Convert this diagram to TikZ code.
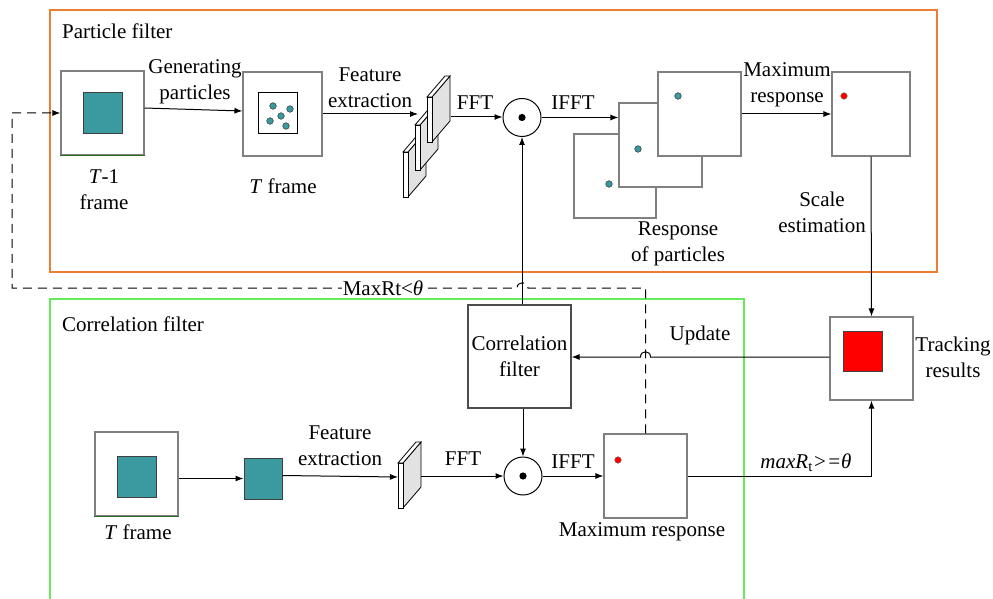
\documentclass[tikz,border=0pt]{standalone}
\usepackage{fontspec}
\setmainfont{Liberation Serif}
\usetikzlibrary{arrows.meta}
\definecolor{tealc}{RGB}{58,154,160}
\definecolor{orangec}{RGB}{237,125,49}
\definecolor{greenc}{RGB}{100,235,90}
\definecolor{boxgray}{RGB}{128,128,128}
\definecolor{slabgray}{RGB}{226,226,226}
\definecolor{edgegreen}{RGB}{40,110,40}
\newcommand{\fmslab}[2]{%
  \filldraw[fill=slabgray, draw=black, line width=0.8pt] (#1+5,#2) -- ++(18,-21) -- ++(0,45) -- ++(-18,21) -- cycle;
  \filldraw[fill=white, draw=black, line width=0.8pt] (#1,#2) rectangle ++(5,45);
  \filldraw[fill=white, draw=black, line width=0.8pt] (#1,#2) -- ++(18,-21) -- ++(5,0) -- (#1+5,#2) -- cycle;
}
\begin{document}
\begin{tikzpicture}[x=1pt,y=-1pt,
  every node/.style={font=\fontsize{21}{26}\selectfont, inner sep=0pt},
  framebox/.style={draw=boxgray, line width=1.1pt, fill=white},
  tealbox/.style={draw=black!75, line width=1pt, fill=tealc},
  redbox/.style={draw=black!75, line width=1pt, fill=red},
  opcirc/.style={circle, draw=black, line width=1pt, fill=white, minimum size=38pt},
  arr/.style={-{Latex[length=8pt,width=6pt]}, line width=1pt},
  dashline/.style={line width=1pt, dash pattern=on 9pt off 6pt},
  lbl/.style={align=center},
  tdot/.style={fill=tealc, draw=black!80, line width=0.5pt},
  rdot/.style={fill=red, draw=black!60, line width=0.4pt}
]
\useasboundingbox (0,0) rectangle (993,599);
% group frames
\draw[orangec, line width=1.3pt] (50,10) rectangle (937,272);
\draw[greenc, line width=1.3pt] (50,610) -- (50,299) -- (744,299) -- (744,610);
\node[anchor=west] (pftitle) at (62,31) {Particle filter};
\node[anchor=west] (cftitle) at (62,324) {Correlation filter};

% ---------- particle filter row ----------
\node[framebox, minimum width=83pt, minimum height=84pt] (t1box) at (102.5,113) {};
\draw[edgegreen, line width=1pt] (t1box.south west) -- (t1box.south east);
\node[tealbox, minimum width=39pt, minimum height=41pt] (t1in) at (102.5,113.5) {};
\node[lbl] (t1lab) at (104,190) {\textit{T}-1\\frame};

\node[framebox, minimum width=79pt, minimum height=84pt] (tbox) at (282.5,114) {};
\node[draw=black, line width=1pt, fill=white, minimum width=39pt, minimum height=41pt] (tin) at (277.5,113.5) {};
\foreach \px/\py in {273/106, 290/109, 281/116, 270/121, 286/126}
  \filldraw[tdot] (\px,\py) circle (3.3);
\node[lbl] (tlab) at (283,186) {\textit{T} frame};

\draw[arr] ([yshift=5pt]t1box.east) -- ([yshift=3pt]tbox.west);
\node[lbl] (genlab) at (195,82) {Generating\\particles};

% feature maps stack
\fmslab{403}{152}
\fmslab{415}{125}
\fmslab{427}{97}
\coordinate (fm1in) at (418,114);
\coordinate (fm1out) at (451,117);
\draw[arr] (tbox.east |- fm1in) -- (fm1in);
\node[lbl] (felab1) at (370,88) {Feature\\extraction};

\node[opcirc] (odot1) at (522,117.5) {};
\fill (odot1.center) circle (3.6);
\draw[arr] (fm1out) -- (fm1out -| odot1.west);
\node (fftlab1) at (475,103) {FFT};

% response of particles
\node[framebox, minimum width=82pt, minimum height=84pt] (r3) at (615,176) {};
\node[framebox, minimum width=83pt, minimum height=84pt] (r2) at (660.5,145) {};
\node[framebox, minimum width=83pt, minimum height=84pt] (r1) at (699.5,114) {};
\filldraw[tdot] (609,184) circle (3.3);
\filldraw[tdot] (638,149) circle (3.3);
\filldraw[tdot] (678,96) circle (3.3);
\draw[arr] (odot1.east) -- (r2.west |- odot1.east);
\node (ifftlab1) at (573,103) {IFFT};
\node[lbl] (roplab) at (678,243.5) {Response\\of particles};

\node[framebox, minimum width=78pt, minimum height=84pt] (mr1) at (871,114) {};
\filldraw[rdot] (844,96) circle (3.3);
\draw[arr] (r1.east) -- (mr1.west);
\node[lbl] (mrlab1) at (787,85) {Maximum\\response};
\node[lbl] (selab) at (822,212.5) {Scale\\estimation};

% ---------- tracking results ----------
\node[framebox, minimum width=83pt, minimum height=83pt] (trk) at (871.5,358.5) {};
\node[redbox, minimum width=39pt, minimum height=40pt] (trkin) at (862.5,351) {};
\node[lbl] (trklab) at (953,357) {Tracking\\results};
\draw[arr] (mr1.south) -- (trk.north);

% ---------- correlation filter row ----------
\node[framebox, draw=black!70, minimum width=103pt, minimum height=103pt, lbl] (cf) at (519.5,356.5) {Correlation\\filter};

\node[framebox, minimum width=83pt, minimum height=84pt] (tb) at (136.5,474) {};
\draw[edgegreen, line width=1pt] (tb.south west) -- (tb.south east);
\node[tealbox, minimum width=39pt, minimum height=41pt] (tbin) at (136.5,476.5) {};
\node (tblab) at (138,532) {\textit{T} frame};

\node[tealbox, minimum width=38pt, minimum height=41pt] (sq) at (263,478.5) {};
\draw[arr] (tb.east |- sq.west) -- (sq.west);

\fmslab{398}{463}
\coordinate (fm2in) at (398,477);
\coordinate (fm2out) at (421,476);
\draw[arr] ([yshift=3pt]sq.east) -- (fm2in);
\node[lbl] (felab2) at (340,446) {Feature\\extraction};

\node[opcirc] (odot2) at (523,476) {};
\fill (odot2.center) circle (3.6);
\draw[arr] (fm2out) -- (odot2.west);
\node (fftlab2) at (463,459) {FFT};

\node[framebox, minimum width=83pt, minimum height=84pt] (mr2) at (645.5,476) {};
\filldraw[rdot] (618,460) circle (3.3);
\draw[arr] (odot2.east) -- (mr2.west);
\node (ifftlab2) at (573,462) {IFFT};
\node (mrlab2) at (642,532) {Maximum response};

% cf -> circles
\draw[arr] (odot2.north |- cf.south) -- (odot2.north);
\draw[arr] (odot1.south |- cf.north) -- (odot1.south);

% max response -> tracking results
\draw[arr] (mr2.east) -- (mr2.east -| trk.south) -- (trk.south);
\node (thrlab) at (806,463) {\textit{maxR}\textsubscript{t}\textit{>=θ}};

% update loop with hop over dashed line
\coordinate (uy) at (0,357);
\draw[arr] (trk.west |- uy) -- (650.5,357) .. controls (650.5,350) and (640.5,350) .. (640.5,357) -- (cf.east |- uy);
\node (updlab) at (700,335) {Update};

% dashed feedback with hop over vertical line
\coordinate (dy) at (0,288);
\coordinate (dl) at (12,0);
\draw[dashline, -{Latex[length=8pt,width=6pt]}] (mr2.north) -- (mr2.north |- dy) -- (528,288) .. controls (528,281) and (517,281) .. (517,288) -- (dl |- dy) -- (dl |- t1box.west) -- (t1box.west);
\node[fill=white, inner xsep=1pt, inner ysep=1pt] (thrlow) at (383,288) {MaxRt<\textit{θ}};
\end{tikzpicture}
\end{document}
